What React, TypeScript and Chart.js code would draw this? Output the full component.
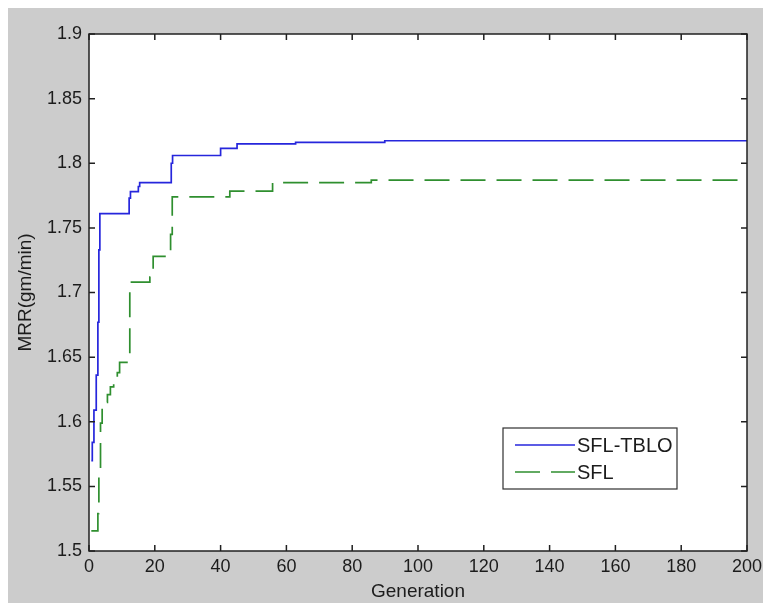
import React, { useEffect, useRef } from "react";
import { Chart, registerables } from "chart.js";

Chart.register(...registerables);

// ---- data ----
const seriesLabels = ["SFL-TBLO", "SFL"];

const tbloGeneration = [0.7, 1.0, 1.5, 2.2, 2.7, 3.0, 3.3, 12.2, 12.6, 15.0, 15.4, 25.0, 25.4, 40.0, 45.0, 62.8, 89.9, 200];
const tbloMRR = [1.57, 1.584, 1.609, 1.636, 1.677, 1.733, 1.761, 1.773, 1.778, 1.782, 1.785, 1.8, 1.806, 1.8115, 1.815, 1.8162, 1.8174, 1.8174];

const sflGeneration = [0.7, 2.7, 3.0, 3.5, 4.0, 5.6, 6.5, 7.5, 8.6, 9.3, 12.4, 18.5, 19.5, 24.8, 25.3, 42.8, 55.8, 85.8, 200];
const sflMRR = [1.5156, 1.529, 1.557, 1.599, 1.615, 1.621, 1.627, 1.632, 1.638, 1.646, 1.708, 1.712, 1.728, 1.745, 1.774, 1.7785, 1.785, 1.787, 1.787];

const xTickValues = [0, 20, 40, 60, 80, 100, 120, 140, 160, 180, 200];
const xTickLabels = ["0", "20", "40", "60", "80", "100", "120", "140", "160", "180", "200"];
const yTickValues = [1.5, 1.55, 1.6, 1.65, 1.7, 1.75, 1.8, 1.85, 1.9];
const yTickLabels = ["1.5", "1.55", "1.6", "1.65", "1.7", "1.75", "1.8", "1.85", "1.9"];

const xTitle = "Generation";
const yTitle = "MRR(gm/min)";

const FONT = "'Liberation Sans', Arial, Helvetica, sans-serif";
const TEXT = "#1c1c1c";

const bgPlugin = {
  id: "matlabBg",
  beforeDraw(chart: any) {
    const { ctx, chartArea, width, height } = chart;
    ctx.save();
    ctx.fillStyle = "#cccccc";
    ctx.fillRect(0, 0, width, height);
    ctx.fillStyle = "#ffffff";
    ctx.fillRect(chartArea.left, chartArea.top, chartArea.right - chartArea.left, chartArea.bottom - chartArea.top);
    ctx.restore();
  },
};

const framePlugin = {
  id: "matlabFrame",
  afterDraw(chart: any) {
    const { ctx, chartArea } = chart;
    const xs = chart.scales.x;
    const ys = chart.scales.y;
    const tl = 6;
    ctx.save();
    ctx.strokeStyle = "#202020";
    ctx.lineWidth = 1.5;
    ctx.beginPath();
    xs.ticks.forEach((t: any) => {
      const px = xs.getPixelForValue(t.value);
      ctx.moveTo(px, chartArea.bottom);
      ctx.lineTo(px, chartArea.bottom - tl);
      ctx.moveTo(px, chartArea.top);
      ctx.lineTo(px, chartArea.top + tl);
    });
    ys.ticks.forEach((t: any) => {
      const py = ys.getPixelForValue(t.value);
      ctx.moveTo(chartArea.left, py);
      ctx.lineTo(chartArea.left + tl, py);
      ctx.moveTo(chartArea.right, py);
      ctx.lineTo(chartArea.right - tl, py);
    });
    ctx.stroke();
    ctx.strokeRect(chartArea.left, chartArea.top, chartArea.right - chartArea.left, chartArea.bottom - chartArea.top);
    ctx.restore();
  },
};

const legendPlugin = {
  id: "matlabLegend",
  afterDraw(chart: any) {
    const { ctx, chartArea } = chart;
    const boxW = 174;
    const boxH = 61;
    const right = chartArea.right - 70;
    const bottom = chartArea.bottom - 62;
    const left = right - boxW;
    const top = bottom - boxH;
    ctx.save();
    ctx.fillStyle = "#ffffff";
    ctx.fillRect(left, top, boxW, boxH);
    ctx.strokeStyle = "#303030";
    ctx.lineWidth = 1.2;
    ctx.strokeRect(left, top, boxW, boxH);
    chart.data.datasets.forEach((ds: any, i: number) => {
      const cy = top + 17 + i * 27;
      ctx.strokeStyle = ds.borderColor;
      ctx.lineWidth = ds.borderWidth;
      ctx.setLineDash(ds.borderDash || []);
      ctx.beginPath();
      ctx.moveTo(left + 12, cy);
      ctx.lineTo(left + 72, cy);
      ctx.stroke();
      ctx.setLineDash([]);
      ctx.fillStyle = TEXT;
      ctx.font = `20px ${FONT}`;
      ctx.textBaseline = "middle";
      ctx.textAlign = "left";
      ctx.fillText(ds.label, left + 74, cy + 1);
    });
    ctx.restore();
  },
};

export default function App() {
  const canvasRef = useRef<HTMLCanvasElement | null>(null);

  useEffect(() => {
    if (!canvasRef.current) return;
    const chart = new Chart(canvasRef.current, {
      type: "line",
      data: {
        datasets: [
          {
            label: seriesLabels[0],
            data: tbloGeneration.map((g, i) => ({ x: g, y: tbloMRR[i] })),
            borderColor: "#2626dc",
            borderWidth: 1.7,
            pointRadius: 0,
            stepped: true,
            fill: false,
          },
          {
            label: seriesLabels[1],
            data: sflGeneration.map((g, i) => ({ x: g, y: sflMRR[i] })),
            borderColor: "#2f8f2f",
            borderWidth: 1.7,
            borderDash: [25, 11],
            pointRadius: 0,
            stepped: true,
            fill: false,
          },
        ],
      },
      options: {
        animation: false,
        responsive: true,
        maintainAspectRatio: false,
        layout: { padding: { top: 26, right: 16, left: 0, bottom: 0 } },
        plugins: {
          legend: { display: false },
          tooltip: { enabled: false },
        },
        scales: {
          x: {
            type: "linear",
            min: 0,
            max: 200,
            grid: { display: false },
            border: { display: false },
            afterBuildTicks: (scale: any) => {
              scale.ticks = xTickValues.map((v) => ({ value: v }));
            },
            afterFit: (scale: any) => {
              scale.height = 52;
              scale.paddingLeft = 0;
              scale.paddingRight = 0;
            },
            ticks: {
              autoSkip: false,
              maxRotation: 0,
              padding: -3,
              color: TEXT,
              font: { family: FONT, size: 18 },
              callback: (_v: any, i: number) => xTickLabels[i],
            },
            title: {
              display: true,
              text: xTitle,
              color: TEXT,
              font: { family: FONT, size: 19 },
              padding: { top: 0, bottom: 0 },
            },
          },
          y: {
            type: "linear",
            min: 1.5,
            max: 1.9,
            grid: { display: false },
            border: { display: false },
            afterBuildTicks: (scale: any) => {
              scale.ticks = yTickValues.map((v) => ({ value: v }));
            },
            afterFit: (scale: any) => {
              scale.width = 81;
              scale.paddingTop = 0;
              scale.paddingBottom = 0;
            },
            ticks: {
              autoSkip: false,
              padding: -1,
              color: TEXT,
              font: { family: FONT, size: 18 },
              callback: (_v: any, i: number) => yTickLabels[i],
            },
            title: {
              display: true,
              text: yTitle,
              color: TEXT,
              font: { family: FONT, size: 19 },
              padding: { top: 6, bottom: 0 },
            },
          },
        },
      },
      plugins: [bgPlugin, framePlugin, legendPlugin],
    });
    return () => chart.destroy();
  }, []);

  return (
    <div style={{ position: "fixed", left: 8, top: 8, width: 755, height: 595 }}>
      <canvas ref={canvasRef} />
    </div>
  );
}
